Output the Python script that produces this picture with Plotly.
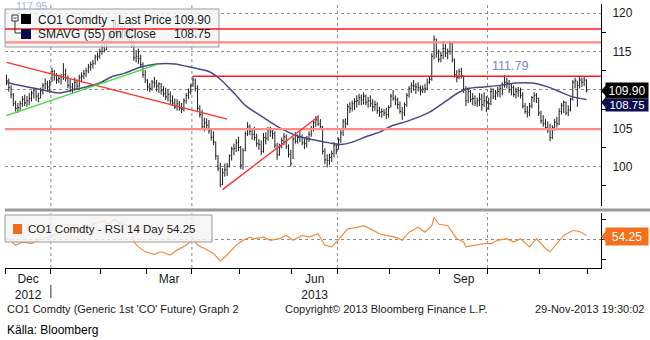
import pandas as pd
import plotly.graph_objects as go

# ---------------- data: CO1 Comdty daily bars, Dec 2012 - Nov 2013 ----------------
holidays = ["2012-12-25", "2013-01-01", "2013-03-29", "2013-04-01"]
days = pd.bdate_range("2012-12-03", "2013-11-29")
days = days[~days.isin(pd.to_datetime(holidays))]

high = [
    112.0, 111.5, 110.6, 109.6, 108.6, 108.3, 108.6, 109.2, 109.4, 109.2, 109.6, 109.9, 110.3, 110.0, 109.6, 110.3, 110.9, 111.5, 111.2, 111.3,
    112.9, 112.6, 112.2, 112.0, 112.1, 113.5, 112.8, 111.9, 111.4, 110.9, 111.6, 111.4, 112.0, 112.3, 112.6, 112.9, 113.4, 113.7, 113.9, 114.6, 114.9, 115.4,
    116.0, 116.3, 116.7, 117.4, 117.8, 119.0, 119.1, 118.6, 118.4, 118.3, 118.4, 118.0, 117.8, 117.4, 116.2, 115.2, 115.4, 114.6, 113.6, 112.6,
    111.4, 110.9, 111.3, 111.7, 111.3, 111.0, 110.9, 110.5, 110.3, 110.1, 109.8, 109.3, 108.9, 108.8, 108.6, 108.3, 108.9, 109.6, 110.2, 110.8,
    111.8, 111.5, 110.6, 108.0, 107.4, 106.4, 106.3, 106.1, 105.0, 104.6, 103.3, 101.5, 100.5, 99.8, 100.4, 100.5, 101.6, 102.6, 103.0, 103.6, 103.9,
    102.7, 102.4, 104.6, 105.8, 105.5, 105.0, 105.2, 104.3, 103.6, 103.4, 104.4, 104.5, 105.2, 105.2, 105.0, 104.6, 103.1, 103.0, 103.8, 104.4, 104.2, 102.9, 102.2,
    103.9, 104.5, 104.2, 104.6, 104.2, 103.8, 104.0, 104.6, 105.3, 106.0, 106.6, 106.7, 106.2, 105.3, 102.4, 101.6, 101.7, 102.1, 103.2, 103.0,
    103.8, 104.8, 106.2, 106.3, 108.2, 108.4, 108.6, 108.9, 109.3, 109.5, 109.4, 109.7, 109.4, 109.1, 109.3, 108.8, 108.6, 108.4, 107.8, 107.6, 107.5, 107.7, 108.0,
    109.5, 110.0, 109.3, 109.0, 108.5, 107.8, 108.4, 109.6, 110.5, 111.0, 111.3, 110.9, 111.0, 110.6, 110.6, 110.8, 111.5, 111.8, 114.8, 117.1, 116.7, 115.3,
    115.0, 116.1, 116.0, 115.4, 116.4, 116.2, 114.1, 112.6, 112.8, 112.9, 111.9, 110.5, 110.3, 110.0, 109.6, 109.3, 109.0, 109.6, 109.5, 109.7, 109.2,
    109.0, 110.3, 110.2, 110.0, 110.4, 110.6, 111.0, 111.9, 111.6, 111.3, 110.8, 110.6, 110.3, 110.4, 110.3, 109.7, 108.3, 107.9, 108.3, 109.2, 109.7, 109.6, 109.0,
    107.3, 106.7, 106.2, 105.9, 105.6, 105.4, 106.2, 106.5, 107.6, 108.3, 108.6, 108.5, 108.0, 109.0, 111.3, 111.6, 111.2, 111.7, 111.6, 111.8, 111.4,
]
low = [
    110.6, 109.8, 108.9, 107.9, 107.2, 107.0, 107.3, 107.8, 107.9, 107.8, 108.0, 108.5, 108.9, 108.6, 108.4, 108.9, 109.4, 110.1, 109.8, 109.6,
    111.0, 111.2, 110.8, 110.9, 110.7, 111.3, 111.1, 110.2, 109.7, 109.6, 109.9, 110.0, 110.3, 111.0, 111.4, 111.7, 112.2, 112.5, 112.8, 113.3, 113.8, 114.1,
    114.6, 114.9, 115.2, 115.9, 116.3, 117.0, 117.3, 117.0, 117.0, 116.7, 116.8, 116.6, 116.3, 115.5, 113.8, 113.6, 113.4, 112.9, 111.6, 110.9,
    109.9, 109.7, 109.9, 110.3, 109.8, 109.6, 109.4, 109.1, 108.7, 108.5, 108.1, 107.9, 107.5, 107.3, 107.3, 107.0, 107.2, 108.2, 108.8, 109.4,
    110.4, 109.8, 107.3, 106.4, 104.8, 104.6, 104.9, 104.3, 103.4, 102.8, 100.9, 99.4, 97.3, 97.6, 98.7, 98.8, 99.9, 100.8, 101.5, 101.9, 102.0,
    99.7, 99.6, 102.0, 104.0, 104.1, 103.5, 103.4, 102.6, 102.2, 101.5, 101.8, 102.9, 103.4, 103.9, 103.6, 102.4, 100.9, 101.4, 102.4, 102.8, 102.3, 101.2, 100.0,
    101.0, 103.0, 103.0, 103.2, 102.8, 102.3, 102.5, 103.2, 103.9, 104.6, 105.2, 105.3, 104.9, 101.6, 100.3, 99.9, 100.2, 100.6, 101.2, 101.6,
    102.2, 103.1, 104.0, 105.0, 105.4, 107.0, 107.2, 107.4, 107.7, 108.0, 108.0, 108.1, 108.0, 107.7, 107.8, 107.2, 107.3, 106.9, 106.5, 106.4, 106.6, 106.2, 106.4,
    107.7, 108.6, 108.0, 107.5, 106.9, 106.1, 106.6, 107.8, 109.0, 109.6, 109.9, 109.5, 109.8, 109.3, 109.6, 109.6, 110.0, 110.8, 111.2, 114.0, 114.2, 113.6,
    113.6, 114.0, 114.3, 114.0, 114.6, 113.6, 111.6, 111.0, 111.4, 111.5, 109.6, 107.9, 108.3, 108.4, 108.0, 107.9, 107.8, 107.9, 107.3, 107.8, 107.1,
    107.4, 108.0, 108.8, 108.7, 109.1, 109.0, 109.3, 110.3, 110.2, 109.6, 109.3, 109.1, 108.9, 109.1, 108.9, 107.6, 106.9, 106.4, 106.6, 107.6, 108.4, 108.3, 106.6,
    105.6, 105.2, 104.8, 104.4, 103.3, 103.6, 104.7, 105.1, 105.4, 106.8, 107.0, 106.7, 106.6, 107.2, 108.6, 110.2, 107.8, 110.2, 110.4, 110.5, 109.7,
]
close = [
    111.2, 110.3, 109.4, 108.2, 107.6, 107.7, 108.2, 108.8, 108.3, 108.6, 108.9, 109.6, 110.0, 109.2, 108.9, 109.9, 110.6, 110.8, 110.4, 111.0,
    112.4, 111.9, 111.3, 111.5, 111.7, 112.0, 111.6, 110.6, 110.4, 110.1, 111.0, 110.5, 111.6, 111.8, 112.1, 112.5, 113.0, 113.3, 113.5, 114.3, 114.4, 115.0,
    115.6, 115.2, 116.4, 116.8, 117.3, 118.6, 117.8, 118.0, 117.6, 117.7, 117.6, 117.4, 117.5, 115.8, 114.2, 114.4, 114.1, 113.3, 112.0, 111.3,
    110.4, 110.2, 111.0, 110.9, 110.5, 110.8, 109.9, 109.5, 109.1, 109.4, 108.6, 108.3, 107.8, 108.2, 107.6, 107.5, 108.6, 109.3, 109.7, 110.5,
    111.3, 110.2, 107.6, 106.8, 105.2, 105.7, 105.4, 104.7, 103.8, 103.2, 101.4, 99.8, 97.7, 99.2, 99.6, 100.1, 101.4, 102.3, 102.4, 103.1, 102.5,
    100.2, 102.1, 104.3, 105.2, 104.6, 104.2, 103.8, 103.0, 102.9, 102.0, 103.8, 103.7, 104.8, 104.6, 104.3, 102.8, 101.6, 102.6, 103.4, 103.9, 102.6, 101.6, 100.4,
    103.6, 103.3, 103.8, 103.9, 103.1, 103.0, 103.6, 104.2, 105.0, 105.8, 106.1, 105.6, 105.2, 102.0, 100.9, 100.8, 101.2, 101.7, 102.8, 102.2,
    103.5, 104.4, 105.9, 105.6, 107.8, 107.6, 108.2, 108.5, 108.6, 109.0, 108.7, 109.2, 108.4, 108.6, 108.2, 107.8, 108.1, 107.3, 107.1, 107.2, 107.0, 106.8, 107.7,
    109.2, 108.9, 108.7, 108.1, 107.2, 107.0, 108.1, 109.3, 110.2, 110.6, 110.5, 110.4, 110.3, 109.9, 110.1, 110.2, 111.0, 111.4, 114.4, 116.6, 114.8, 114.0,
    114.5, 115.4, 114.8, 115.0, 116.1, 113.9, 112.0, 111.6, 112.4, 111.9, 110.1, 108.6, 109.8, 108.8, 108.9, 108.3, 108.6, 108.8, 108.1, 108.6, 108.4,
    108.2, 109.8, 109.2, 109.6, 109.8, 110.2, 110.7, 111.0, 110.9, 110.0, 110.3, 109.4, 109.8, 109.9, 109.3, 107.9, 107.2, 107.1, 107.9, 109.0, 109.3, 108.9, 107.0,
    106.0, 105.6, 105.1, 104.8, 103.8, 105.1, 105.8, 105.6, 107.2, 108.0, 108.4, 107.0, 107.4, 108.8, 111.0, 111.2, 110.6, 111.3, 111.0, 111.3, 109.9,
]

# 55-day simple moving average of the close
sma_dates = ["2012-12-03", "2012-12-07", "2012-12-18", "2012-12-31", "2013-01-07", "2013-01-15", "2013-01-23",
             "2013-01-31", "2013-02-07", "2013-02-15", "2013-02-26", "2013-03-07", "2013-03-19", "2013-04-02",
             "2013-04-11", "2013-04-18", "2013-04-26", "2013-05-03", "2013-05-15", "2013-05-24", "2013-06-05",
             "2013-06-14", "2013-06-25", "2013-07-02", "2013-07-09", "2013-07-17", "2013-07-25", "2013-08-02",
             "2013-08-12", "2013-08-26", "2013-09-03", "2013-09-12", "2013-09-18", "2013-09-27", "2013-10-08",
             "2013-10-17", "2013-10-28", "2013-11-06", "2013-11-13", "2013-11-21", "2013-11-29"]
sma_vals = [111.0, 110.7, 110.3, 109.8, 109.6, 110.0, 110.4, 110.9, 111.7, 112.2, 113.0, 113.4, 113.4, 112.9,
            112.4, 111.4, 109.6, 108.0, 106.4, 105.1, 104.0, 103.5, 103.1, 102.9, 103.2, 103.9, 104.5, 105.4,
            105.9, 107.1, 108.3, 109.7, 110.2, 110.4, 110.6, 110.9, 110.9, 110.4, 109.8, 109.1, 108.75]

# 14-day RSI
rsi_dates = ["2012-12-03", "2012-12-07", "2012-12-12", "2012-12-18", "2012-12-21", "2012-12-31", "2013-01-04",
             "2013-01-09", "2013-01-14", "2013-01-17", "2013-01-24", "2013-01-29", "2013-02-04", "2013-02-06",
             "2013-02-08", "2013-02-11", "2013-02-13", "2013-02-18", "2013-02-20", "2013-02-21", "2013-02-25",
             "2013-02-28", "2013-03-06", "2013-03-11", "2013-03-15", "2013-03-20", "2013-03-26", "2013-04-02",
             "2013-04-04", "2013-04-09", "2013-04-15", "2013-04-18", "2013-04-23", "2013-04-29", "2013-05-02",
             "2013-05-07", "2013-05-09", "2013-05-15", "2013-05-20", "2013-05-24", "2013-05-29", "2013-06-03",
             "2013-06-07", "2013-06-12", "2013-06-18", "2013-06-21", "2013-06-26", "2013-07-02", "2013-07-05",
             "2013-07-11", "2013-07-16", "2013-07-19", "2013-07-25", "2013-07-30", "2013-08-05", "2013-08-08",
             "2013-08-13", "2013-08-19", "2013-08-22", "2013-08-27", "2013-08-28", "2013-08-30", "2013-09-05",
             "2013-09-11", "2013-09-16", "2013-09-17", "2013-09-23", "2013-09-27", "2013-10-02", "2013-10-07",
             "2013-10-11", "2013-10-16", "2013-10-21", "2013-10-25", "2013-10-30", "2013-11-05", "2013-11-07",
             "2013-11-12", "2013-11-15", "2013-11-21", "2013-11-26", "2013-11-29"]
rsi_vals = [52.4, 44.3, 47.5, 45.9, 49.2, 52.4, 55.0, 58.0, 60.6, 57.0, 63.8, 66.0, 68.7, 65.0, 70.0, 69.7,
            66.0, 63.8, 58.0, 47.5, 42.6, 37.7, 35.2, 37.7, 34.5, 39.4, 44.3, 50.8, 44.3, 41.0, 36.1, 28.6,
            34.5, 44.3, 49.2, 52.4, 50.8, 52.4, 49.2, 50.8, 54.1, 49.2, 54.1, 52.4, 55.7, 44.3, 42.6, 52.4,
            60.6, 62.2, 63.8, 60.6, 55.7, 54.1, 52.4, 49.2, 57.3, 62.2, 57.3, 63.8, 72.0, 65.5, 63.8, 50.8,
            47.5, 42.6, 44.3, 45.9, 45.9, 49.2, 50.8, 47.5, 50.8, 42.6, 50.8, 41.0, 37.7, 45.9, 54.1, 59.0,
            58.0, 54.25]

last_price, last_sma, last_rsi = 109.90, 108.75, 54.25

# analyst annotations: horizontal levels (value, start date or None, kind) and trend lines
levels = [(117.95, None, "strong"), (116.2, None, "soft"), (111.79, "2013-04-02", "strong"), (104.9, None, "soft")]
trend_lines = [
    ("2012-12-03", 113.6, "2013-04-23", 106.2, "#ff3030"),
    ("2012-12-03", 106.65, "2013-03-07", 113.3, "#3ddc3d"),
    ("2013-04-19", 97.0, "2013-06-18", 106.5, "#ff3030"),
]

month_labels = {12: "Dec<br>2012", 3: "Mar", 6: "Jun<br>2013", 9: "Sep"}

# ---------------- layout geometry ----------------
W, H = 650, 340
ML, MR, MT, MB = 5, 49, 4, 72
PW, PH = W - ML - MR, H - MT - MB


def pxx(x):
    return (x - ML) / PW


def pxy(y):
    return (H - MB - y) / PH


assert len(high) == len(low) == len(close) == len(days)
pos = {d: i for i, d in enumerate(days)}


def at(d):
    return pos[pd.Timestamp(d)]


n = len(days)
XR = [-0.66, 261.4]

# month boundaries and mid-month label positions (in trading-day index units)
starts = [i for i in range(n) if i == 0 or days[i].month != days[i - 1].month]
bounds = [s - 0.5 for s in starts] + [n - 0.5]
tickvals, ticktext = [], []
for k, s in enumerate(starts):
    m = days[s].month
    if m in month_labels:
        tickvals.append((bounds[k] + bounds[k + 1]) / 2)
        ticktext.append(month_labels[m])
quarter_lines = [bounds[k] for k, s in enumerate(starts) if days[s].month in (1, 4, 7, 10)]

# ---------------- traces ----------------
bx, by = [], []
for i, (h, l, c) in enumerate(zip(high, low, close)):
    bx += [i, i, None, i, i + 0.55, None]
    by += [l, h, None, c, c, None]

fig = go.Figure()
fig.add_trace(go.Scatter(x=bx, y=by, mode="lines", line=dict(color="#1c1c1c", width=1),
                         hoverinfo="skip", xaxis="x", yaxis="y"))
fig.add_trace(go.Scatter(x=[at(d) for d in sma_dates], y=sma_vals, mode="lines",
                         line=dict(color="#4b4b84", width=1.5, shape="spline", smoothing=0.7),
                         hoverinfo="skip", xaxis="x", yaxis="y"))
fig.add_trace(go.Scatter(x=[at(d) for d in rsi_dates], y=rsi_vals, mode="lines",
                         line=dict(color="#f28c3a", width=1.2), hoverinfo="skip", xaxis="x2", yaxis="y2"))
# arrow-head ticks on the price axis
tri_vals = [95, 100, 105, 115, 120]
fig.add_trace(go.Scatter(x=[262.7] * len(tri_vals), y=tri_vals, mode="markers", cliponaxis=False,
                         marker=dict(symbol="triangle-right", size=6, color="black"),
                         hoverinfo="skip", xaxis="x", yaxis="y"))

FONT = "Liberation Sans"
TXT = "#1a1a1a"

# ---------------- shapes ----------------
shapes = []
for q in quarter_lines:
    for xr, yr in (("x", "y domain"), ("x2", "y2 domain")):
        shapes.append(dict(type="line", xref=xr, yref=yr, x0=q, x1=q, y0=0, y1=1, layer="below",
                           line=dict(color="#8c8c8c", width=1, dash="dot")))
shapes.append(dict(type="line", xref="x2 domain", yref="y2", x0=0, x1=1, y0=50, y1=50, layer="below",
                   line=dict(color="#8c8c8c", width=1, dash="dot")))
# panel separator
shapes.append(dict(type="line", xref="paper", yref="paper", x0=pxx(5), x1=pxx(650), y0=pxy(210), y1=pxy(210),
                   line=dict(color="#9a9a9a", width=3)))
# price legend box
shapes.append(dict(type="rect", xref="paper", yref="paper", x0=pxx(5), x1=pxx(219), y0=pxy(47), y1=pxy(9),
                   fillcolor="rgba(244,244,244,0.82)", line=dict(color="#9a9a9a", width=1), layer="above"))
# horizontal levels
for val, start, kind in levels:
    x0 = XR[0] if start is None else at(start)
    col, wid = ("#ff1a1a", 1.4) if kind == "strong" else ("#ff8a8a", 2.4)
    shapes.append(dict(type="line", xref="x", yref="y", x0=x0, x1=XR[1], y0=val, y1=val,
                       line=dict(color=col, width=wid), layer="above"))
for d0, v0, d1, v1, col in trend_lines:
    shapes.append(dict(type="line", xref="x", yref="y", x0=at(d0), x1=at(d1), y0=v0, y1=v1,
                       line=dict(color=col, width=1.4), layer="above"))
# legend icons
shapes += [
    dict(type="rect", xref="paper", yref="paper", x0=pxx(12), x1=pxx(18), y0=pxy(21), y1=pxy(15),
         fillcolor="white", line=dict(color="#333", width=1)),
    dict(type="line", xref="paper", yref="paper", x0=pxx(13.5), x1=pxx(16.5), y0=pxy(18), y1=pxy(18),
         line=dict(color="#333", width=1)),
    dict(type="path", xref="paper", yref="paper",
         path=f"M {pxx(15)},{pxy(21)} L {pxx(15)},{pxy(33)} L {pxx(21)},{pxy(33)}",
         line=dict(color="#333", width=1)),
    dict(type="rect", xref="paper", yref="paper", x0=pxx(21), x1=pxx(31), y0=pxy(24), y1=pxy(14),
         fillcolor="black", line=dict(width=0)),
    dict(type="rect", xref="paper", yref="paper", x0=pxx(21), x1=pxx(31), y0=pxy(39), y1=pxy(29),
         fillcolor="#0a0a50", line=dict(width=0)),
]
# RSI legend box
shapes += [
    dict(type="rect", xref="paper", yref="paper", x0=pxx(5), x1=pxx(212), y0=pxy(242), y1=pxy(215),
         fillcolor="rgba(244,244,244,0.82)", line=dict(color="#9a9a9a", width=1), layer="above"),
    dict(type="rect", xref="paper", yref="paper", x0=pxx(13), x1=pxx(22), y0=pxy(234), y1=pxy(224),
         fillcolor="#f26b1d", line=dict(width=0), layer="above"),
]
# pointers for the last-value boxes
for yc, col in ((102.5, "#0c0c4e"), (90.8, "black"), (236.5, "#f3711c")):
    shapes.append(dict(type="path", xref="paper", yref="paper",
                       path=f"M {pxx(601)},{pxy(yc)} L {pxx(606)},{pxy(yc - 5.5)} L {pxx(606)},{pxy(yc + 5.5)} Z",
                       fillcolor=col, line=dict(width=0)))
# year separator under the month labels
shapes.append(dict(type="line", xref="x2", yref="paper", x0=bounds[1], x1=bounds[1], y0=pxy(285), y1=pxy(298),
                   line=dict(color="#333", width=1)))


# ---------------- annotations ----------------
def note(text, x, y, size=12, color=TXT, anchor="left", **kw):
    return dict(text=text, xref="paper", yref="paper", x=pxx(x), y=pxy(y), xanchor=anchor, yanchor="middle",
                showarrow=False, font=dict(family=FONT, size=size, color=color), **kw)


ann = [
    note("117.95", 14, 5.5, size=10.5, color="#aab4de"),
    note("111.79", 510, 66, size=12.5, color="#7d86c9", anchor="center"),
    note("CO1 Comdty - Last Price", 36, 19.5),
    note(f"{last_price:.2f}", 213, 19.5, anchor="right"),
    note("SMAVG (55) on Close", 36, 34.5),
    note(f"{last_sma:.2f}", 213, 34.5, anchor="right"),
    note(f"CO1 Comdty - RSI 14 Day {last_rsi:.2f}", 26, 229, size=11.5),
    note(f"{last_sma:.2f}", 627, 104.5, size=11.5, color="white", anchor="center", bgcolor="#0c0c4e",
         width=42, height=12, borderpad=0),
    note(f"{last_price:.2f}", 627, 90.5, color="white", anchor="center", bgcolor="black",
         width=42, height=15, borderpad=0),
    note(f"{last_rsi:.2f}", 627, 236.5, color="white", anchor="center", bgcolor="#f3711c",
         width=42, height=17, borderpad=0),
    note("CO1 Comdty (Generic 1st 'CO' Future) Graph 2", 5, 309, size=11),
    note("Copyright\u00a9 2013 Bloomberg Finance L.P.", 283, 309, size=11),
    note("29-Nov-2013 19:30:02", 646, 309, size=11, anchor="right"),
    note("Källa: Bloomberg", 5, 330, size=12, color="black"),
]

fig.update_layout(
    width=W, height=H, margin=dict(l=ML, r=MR, t=MT, b=MB),
    paper_bgcolor="white", plot_bgcolor="white", showlegend=False, hovermode=False,
    font=dict(family=FONT, size=12, color=TXT),
    xaxis=dict(domain=[0, 1], anchor="y", range=XR, showticklabels=False, showgrid=False,
               zeroline=False, showline=False, ticks=""),
    xaxis2=dict(domain=[0, 1], anchor="y2", matches="x", range=XR, tickvals=tickvals, ticktext=ticktext,
                ticks="", showgrid=False, zeroline=False, showline=True, linecolor="black", linewidth=1,
                tickfont=dict(family=FONT, size=12, color=TXT),
                minor=dict(tickvals=bounds, ticks="outside", ticklen=5, tickcolor="black", showgrid=False)),
    yaxis=dict(domain=[pxy(206), 1], anchor="x", side="right", range=[94.87, 121.21],
               tickvals=[95, 100, 105, 110, 115, 120], ticktext=["", "100", "105", "", "115", "120"],
               ticks="outside", ticklen=8, tickcolor="rgba(0,0,0,0)", showgrid=True, gridcolor="#8c8c8c",
               griddash="dot", gridwidth=1, zeroline=False, showline=True, linecolor="black", linewidth=1,
               tickfont=dict(family=FONT, size=12, color=TXT),
               minor=dict(tickvals=[97.5, 102.5, 107.5, 112.5, 117.5], ticks="outside", ticklen=4,
                          tickcolor="black", showgrid=False)),
    yaxis2=dict(domain=[0, pxy(213)], anchor="x2", side="right", range=[21.5, 76.5],
                tickvals=[30, 50, 70], showticklabels=False, ticks="outside", ticklen=4, tickcolor="black",
                showgrid=False, zeroline=False, showline=True, linecolor="black", linewidth=1),
    shapes=shapes, annotations=ann,
)

fig.write_html("out.html")
